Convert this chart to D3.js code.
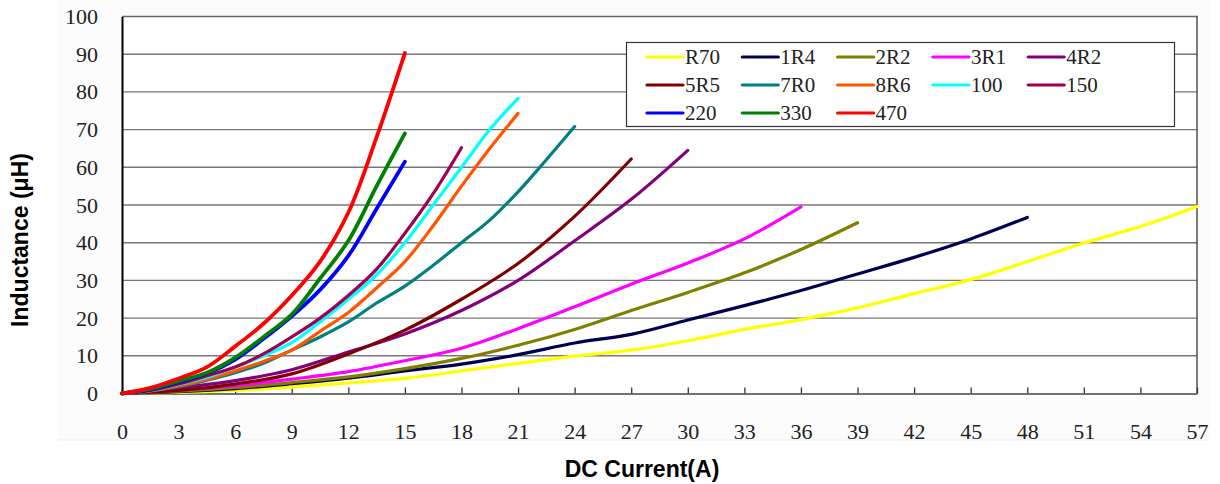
<!DOCTYPE html>
<html><head><meta charset="utf-8">
<script src="https://cdn.jsdelivr.net/npm/d3@7"></script>
<style>
html,body{margin:0;padding:0;background:#fff;}
svg{display:block;}
</style></head>
<body>
<svg id="chart" width="1220" height="484"></svg>
<script>
// ---- data ----
const seriesNames = ["R70","1R4","2R2","3R1","4R2","5R5","7R0","8R6","100","150","220","330","470"];
const seriesColors = ["#FFFF00","#000050","#808000","#FF00FF","#800080","#800000","#008080","#FF5500","#00FFFF","#A00050","#0000FF","#008000","#FF0000"];

const currentR70 = [0,3,6,9,12,15,18,21,24,27,30,33,36,39,42,45,48,51,54,57];
const inductR70  = [0,0.3,0.8,1.7,2.8,4.0,6.0,8.0,9.9,11.5,14,17,19.6,22.7,26.5,30.2,35,39.9,44.3,49.6];
const current1R4 = [0,3,6,9,12,15,18,21,24,27,30,33,36,39,42,45,48];
const induct1R4  = [0,0.5,1.3,2.6,4.1,6,7.8,10.3,13.4,15.7,19.5,23.3,27.3,31.7,36.1,41,46.7];
const current2R2 = [0,3,6,9,12,15,18,21,24,27,30,33,36,39];
const induct2R2  = [0,0.6,1.6,2.9,4.4,6.6,9.3,12.8,17,22,26.8,32,38.2,45.3];
const current3R1 = [0,3,6,9,12,15,18,21,24,27,30,33,36];
const induct3R1  = [0,0.9,2.1,3.8,5.8,8.7,12,17.2,23,29,34.6,41,49.5];
const current4R2 = [0,3,6,9,12,15,18,21,24,27,30];
const induct4R2  = [0,1.5,3.4,6.3,11,15.8,22,30,40.5,51.5,64.5];
const current5R5 = [0,3,6,9,12,15,18,21,24,27];
const induct5R5  = [0,0.8,2.5,5.2,10.5,16.8,25,34.5,47,62.2];
const current7R0 = [0,1.5,3,4.5,6,7.5,9,10.5,12,13.5,15,16.5,18,19.5,21,22.5,24];
const induct7R0  = [0,0.7,1.8,3.5,5.5,8,11.5,15,19,24,28.5,34,40,46,53.5,62,70.8];
const current8R6 = [0,1.5,3,4.5,6,7.5,9,10.5,12,13.5,15,16.5,18,19.5,21];
const induct8R6  = [0,0.7,2,3.7,6,8.5,11.5,16.5,21.5,28,35,44.5,55,65,74.3];
const current100 = [0,1.5,3,4.5,6,7.5,9,10.5,12,13.5,15,16.5,18,19.5,21];
const induct100  = [0,0.8,2.4,4.3,7,10,13.5,19,25,31.5,40,50,60,70,78.3];
const current150 = [0,1.5,3,4.5,6,7.5,9,10.5,12,13.5,15,16.5,18];
const induct150  = [0,0.8,2.5,4.7,7,10.5,15,20,26,33,42.5,53,65.2];
const current220 = [0,1.5,3,4.5,6,7.5,9,10.5,12,13.5,15];
const induct220  = [0,1,3,5.3,9,14.5,20.5,27.5,36.5,49,61.5];
const current330 = [0,1.5,3,4.5,6,7.5,9,10.5,12,13.5,15];
const induct330  = [0,1.2,3.3,5.5,9.5,15,21,30.5,40.5,55,69];
const current470 = [0,1.5,3,4.5,6,7.5,9,10.5,12,13.5,15];
const induct470  = [0,1.5,4,7,12.5,18.5,26,35,48,68,90.3];

const xTicks = [0,3,6,9,12,15,18,21,24,27,30,33,36,39,42,45,48,51,54,57];
const yTicks = [0,10,20,30,40,50,60,70,80,90,100];
const xTitle = "DC Current(A)";
const yTitle = "Inductance (μH)";

const seriesCurrents = [currentR70,current1R4,current2R2,current3R1,current4R2,current5R5,current7R0,current8R6,current100,current150,current220,current330,current470];
const seriesInducts  = [inductR70,induct1R4,induct2R2,induct3R1,induct4R2,induct5R5,induct7R0,induct8R6,induct100,induct150,induct220,induct330,induct470];

(function(){
// ---- layout ----
const pLeft = 122, pRight = 1197, pTop = 16.5, pBottom = 393.5;
const svg = d3.select("#chart");

// faint chart background
svg.append("rect").attr("x",58).attr("y",0).attr("width",1152).attr("height",440)
  .attr("fill","#fcfcfc");
svg.append("line").attr("x1",58).attr("x2",1210).attr("y1",440).attr("y2",440)
  .attr("stroke","#eeeeee").attr("stroke-width",1);
svg.append("rect").attr("x",pLeft).attr("y",pTop).attr("width",pRight-pLeft).attr("height",pBottom-pTop)
  .attr("fill","#ffffff");

const x = d3.scaleLinear().domain([0,57]).range([pLeft,pRight]);
const y = d3.scaleLinear().domain([0,100]).range([pBottom,pTop]);

// gridlines
svg.append("g").selectAll("line").data(yTicks.filter(d=>d>0)).join("line")
  .attr("x1",pLeft).attr("x2",pRight)
  .attr("y1",d=>y(d)).attr("y2",d=>y(d))
  .attr("stroke",d=>d===100?"#666":"#777").attr("stroke-width",1.4);

// right border
svg.append("line").attr("x1",pRight).attr("x2",pRight).attr("y1",pTop-0.7).attr("y2",pBottom)
  .attr("stroke","#444").attr("stroke-width",1.4);

// x axis
const xAxis = d3.axisBottom(x).tickValues(xTicks).tickSizeInner(-6).tickSizeOuter(0).tickPadding(30);
const gx = svg.append("g").attr("transform",`translate(0,${pBottom})`).call(xAxis);
gx.select(".domain").attr("stroke","#444").attr("stroke-width",1.6);
gx.selectAll(".tick line").attr("stroke","#333").attr("stroke-width",1.3);
gx.selectAll(".tick text").attr("font-family","'Liberation Serif','DejaVu Serif',serif")
  .attr("font-size",22).attr("fill","#222");

// y axis
const yAxis = d3.axisLeft(y).tickValues(yTicks).tickSizeInner(0).tickSizeOuter(0).tickPadding(24);
const gy = svg.append("g").attr("transform",`translate(${pLeft},0)`).call(yAxis);
gy.select(".domain").attr("stroke","#000").attr("stroke-width",2);
gy.selectAll(".tick text").attr("font-family","'Liberation Serif','DejaVu Serif',serif")
  .attr("font-size",22).attr("fill","#222");

// lines
const line = d3.line().curve(d3.curveCatmullRom.alpha(0.5)).x(d=>x(d[0])).y(d=>y(d[1]));
const lineG = svg.append("g");
seriesNames.forEach((name,i)=>{
  const pts = seriesCurrents[i].map((c,j)=>[c,seriesInducts[i][j]]);
  const thick = (name==="470"||name==="330"||name==="220") ? 3.8 : 3.2;
  lineG.append("path").datum(pts).attr("d",line)
    .attr("fill","none").attr("stroke",seriesColors[i]).attr("stroke-width",thick)
    .attr("stroke-linecap","round").attr("stroke-linejoin","round");
});

// legend
const lg = svg.append("g");
lg.append("rect").attr("x",626.5).attr("y",42.5).attr("width",548).attr("height",84)
  .attr("fill","#fff").attr("stroke","#333").attr("stroke-width",1.2);
seriesNames.forEach((name,i)=>{
  const col = i%5, row = Math.floor(i/5);
  const lx = 647 + col*95.3, ly = 57 + row*28;
  lg.append("line").attr("x1",lx).attr("x2",lx+36).attr("y1",ly).attr("y2",ly)
    .attr("stroke",seriesColors[i]).attr("stroke-width",3.2).attr("stroke-linecap","round");
  lg.append("text").attr("x",lx+38).attr("y",ly+7).text(name)
    .attr("font-family","'Liberation Serif','DejaVu Serif',serif").attr("font-size",21).attr("fill","#222");
});

// titles
svg.append("text").attr("x",642).attr("y",477).attr("text-anchor","middle")
  .attr("font-family","'Liberation Sans',Arial,sans-serif").attr("font-weight","bold")
  .attr("font-size",23).attr("fill","#000").text(xTitle);
svg.append("text").attr("transform","translate(28,240) rotate(-90)").attr("text-anchor","middle")
  .attr("font-family","'Liberation Sans',Arial,sans-serif").attr("font-weight","bold")
  .attr("font-size",23).attr("fill","#000").text(yTitle);
})();
</script>
</body></html>
